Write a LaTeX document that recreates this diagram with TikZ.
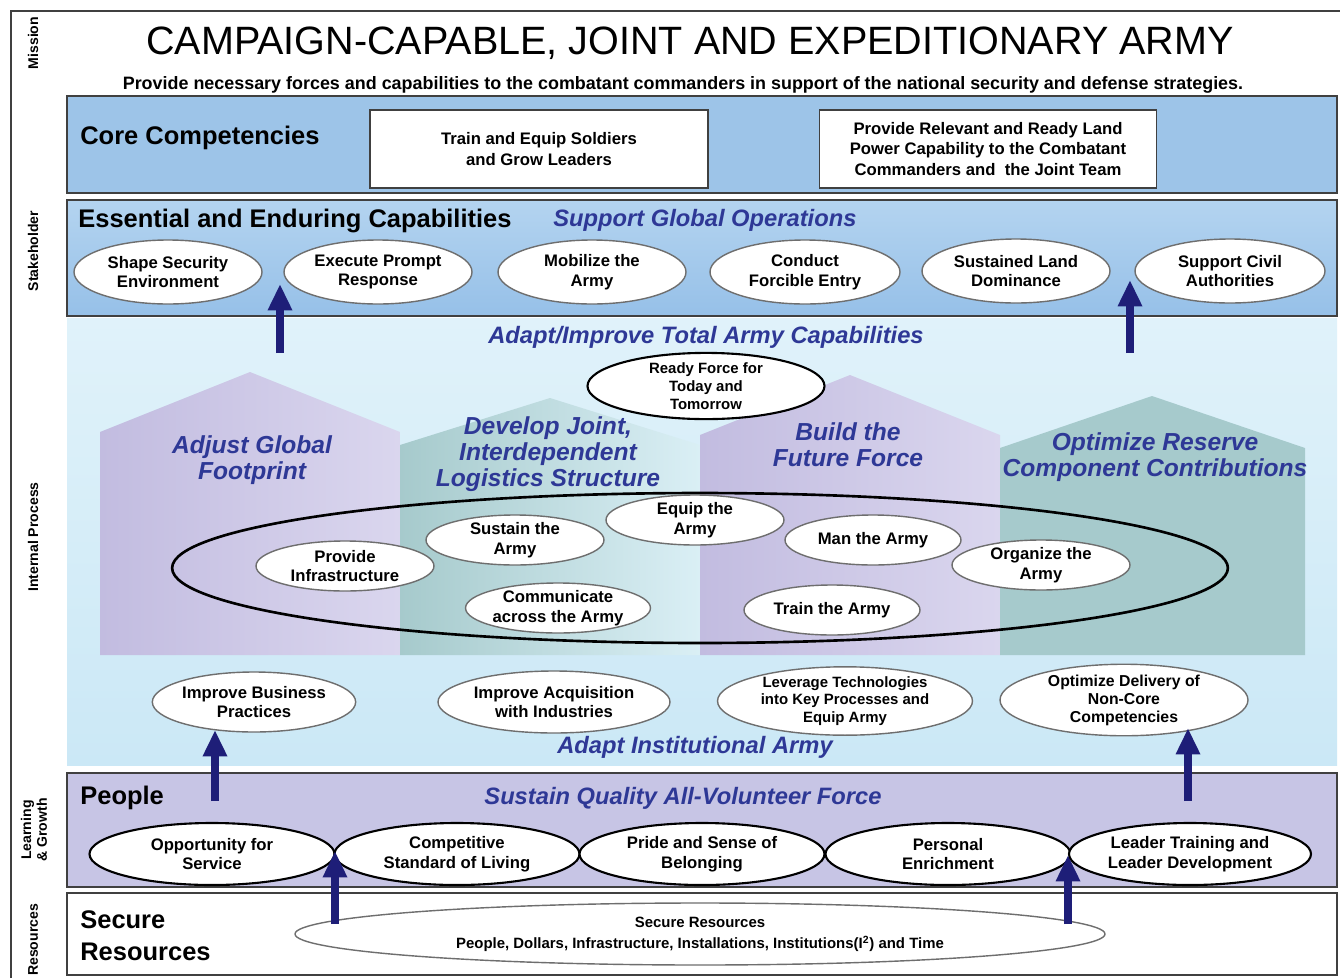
\documentclass[tikz,border=0pt]{standalone}
\usepackage{fontspec}
\setmainfont{Liberation Sans}
\usepackage{xcolor}
\usetikzlibrary{arrows.meta,shapes.geometric,positioning}

\definecolor{framegray}{RGB}{64,64,64}
\definecolor{ovalgray}{RGB}{110,110,110}
\definecolor{coreblue}{RGB}{157,196,232}
\definecolor{stakeblue}{RGB}{150,192,232}
\definecolor{stakelight}{RGB}{180,212,240}
\definecolor{procblue}{RGB}{203,232,246}
\definecolor{proclight}{RGB}{224,242,250}
\definecolor{peoplepurple}{RGB}{199,197,229}
\definecolor{housepurple}{RGB}{194,188,224}
\definecolor{houselilac}{RGB}{218,214,238}
\definecolor{houseteal}{RGB}{166,202,204}
\definecolor{housepale}{RGB}{218,239,245}
\definecolor{textblue}{RGB}{46,56,150}
\definecolor{arrownavy}{RGB}{30,30,120}

\begin{document}
\begin{tikzpicture}[
  x=0.02cm, y=-0.02cm,
  band/.style={draw=framegray, line width=1.3pt},
  whitebox/.style 2 args={rectangle, draw=framegray, line width=1pt, fill=white, inner sep=0pt,
    minimum width=#1*0.02cm, minimum height=#2*0.02cm, align=center,
    font=\bfseries\fontsize{9.5}{11.6}\selectfont},
  oval/.style 2 args={ellipse, draw=ovalgray, line width=0.8pt, fill=white, inner sep=0pt,
    minimum width=#1*0.02cm, minimum height=#2*0.02cm, align=center,
    font=\bfseries\fontsize{9.5}{11.2}\selectfont},
  darkoval/.style={draw=black, line width=1.2pt},
  heading/.style={anchor=west, inner sep=0pt, align=left, font=\bfseries\fontsize{14.5}{18}\selectfont},
  theme/.style={inner sep=0pt, text=textblue, font=\bfseries\itshape\fontsize{13.5}{16}\selectfont},
  pillar/.style={inner sep=0pt, text=textblue, align=center, font=\bfseries\itshape\fontsize{14}{15}\selectfont},
  sidelabel/.style={rotate=90, inner sep=0pt, align=center, font=\bfseries\fontsize{8}{9}\selectfont},
  uparrow/.style={draw=arrownavy, line width=4.5pt, -{Triangle[length=15pt,width=13pt]}}
]
  \useasboundingbox (0,0) rectangle (1340,978);
  \fill[white] (0,0) rectangle (1340,978);
  \draw[framegray, line width=1.2pt] (11,978) -- (11,11) -- (1340,11);

  % side labels
  \node[sidelabel] (lmission) at (33,43) {Mission};
  \node[sidelabel] (lstake) at (33,251) {Stakeholder};
  \node[sidelabel] (lprocess) at (33,537) {Internal Process};
  \node[sidelabel] (llearning) at (34,830) {Learning\\\& Growth};
  \node[sidelabel] (lresources) at (33,940) {Resources};

  % mission
  \node[inner sep=0pt, font=\fontsize{22.5}{26}\selectfont] (title) at (690,43)
    {CAMPAIGN-CAPABLE, JOINT AND EXPEDITIONARY ARMY};
  \node[inner sep=0pt, font=\bfseries\fontsize{10.2}{12}\selectfont] (mission) at (683,85)
    {Provide necessary forces and capabilities to the combatant commanders in support of the national security and defense strategies.};

  % core competencies
  \draw[band, fill=coreblue] (67,96) rectangle (1337,193);
  \node[heading] (core) at (80,138) {Core Competencies};
  \node[whitebox={338}{78}] (trainequip) at (539,149) {Train and Equip Soldiers\\and Grow Leaders};
  \node[whitebox={337}{78}] (landpower) at (988,149)
    {Provide Relevant and Ready Land\\Power Capability to the Combatant\\Commanders and \ the Joint Team};

  % stakeholder
  \draw[band, top color=stakelight, bottom color=stakeblue] (67,200) rectangle (1337,316);
  \node[heading] (essential) at (78,221) {Essential and Enduring Capabilities};
  \node[theme, anchor=west] (globalops) at (553,220) {Support Global Operations};
  \node[oval={188}{64}] (shape) at (168,272) {Shape Security\\Environment};
  \node[oval={188}{64}] (prompt) at (378,272) {Execute Prompt\\Response};
  \node[oval={188}{64}] (mobilize) at (592,272) {Mobilize the\\Army};
  \node[oval={190}{64}] (forcible) at (805,272) {Conduct\\Forcible Entry};
  \node[oval={188}{64}] (dominance) at (1016,271) {Sustained Land\\Dominance};
  \node[oval={190}{64}] (civil) at (1230,271) {Support Civil\\Authorities};

  % internal process
  \fill[top color=proclight, bottom color=procblue] (67,318) rectangle (1337,765);
  \node[theme] (totalarmy) at (706,337) {Adapt/Improve Total Army Capabilities};
  \shade[left color=housepurple, right color=houselilac]
    (100,655) -- (100,432) -- (250,372) -- (400,432) -- (400,655) -- cycle;
  \shade[left color=houseteal, right color=housepale]
    (400,655) -- (400,445) -- (550,398) -- (700,445) -- (700,655) -- cycle;
  \shade[left color=housepurple, right color=houselilac]
    (700,655) -- (700,435) -- (850,375) -- (1000,435) -- (1000,655) -- cycle;
  \shade[left color=houseteal, middle color=housepale, right color=houseteal]
    (1000,655) -- (1000,448) -- (1152,396) -- (1305,448) -- (1305,655) -- cycle;
  \node[pillar] (footprint) at (252,460) {Adjust Global\\Footprint};
  \node[pillar] (logistics) at (548,454) {Develop Joint,\\Interdependent\\Logistics Structure};
  \node[pillar] (future) at (848,445) {Build the\\Future Force};
  \node[pillar] (reserve) at (1155,457) {Optimize Reserve\\Component Contributions};
  \node[oval={237}{60}, darkoval, font=\bfseries\fontsize{8.5}{10.2}\selectfont] (ready) at (706,386)
    {Ready Force for\\Today and\\Tomorrow};

  \node[ellipse, draw=black, line width=1.5pt, minimum width=21.12cm, minimum height=3cm] (ring) at (700,568) {};
  \node[oval={178}{50}] (infra) at (345,566) {Provide\\Infrastructure};
  \node[oval={178}{50}] (sustain) at (515,540) {Sustain the\\Army};
  \node[oval={178}{50}] (equip) at (695,520) {Equip the\\Army};
  \node[oval={176}{50}] (man) at (873,540) {Man the Army};
  \node[oval={178}{50}] (organize) at (1041,565) {Organize the\\Army};
  \node[oval={170}{50}] (communicate) at (558,608) {Communicate\\across the Army};
  \node[oval={176}{50}] (train) at (832,610) {Train the Army};

  \node[oval={195}{60}] (business) at (254,702) {Improve Business\\Practices};
  \node[oval={232}{62}] (acquisition) at (554,702) {Improve Acquisition\\with Industries};
  \node[oval={255}{64}, font=\bfseries\fontsize{8.5}{9.8}\selectfont] (leverage) at (845,701)
    {Leverage Technologies\\into Key Processes and\\Equip Army};
  \node[oval={248}{70}, font=\bfseries\fontsize{9}{10.2}\selectfont] (noncore) at (1124,700)
    {Optimize Delivery of\\Non-Core\\Competencies};
  \node[theme] (institutional) at (695,747) {Adapt Institutional Army};

  % learning and growth
  \draw[band, fill=peoplepurple] (67,773) rectangle (1337,887);
  \node[heading] (people) at (80,798) {People};
  \node[theme] (volunteer) at (683,798) {Sustain Quality All-Volunteer Force};
  \node[oval={245}{62}, darkoval] (opportunity) at (212,854) {Opportunity for\\Service};
  \node[oval={245}{62}, darkoval] (living) at (457,854) {Competitive\\Standard of Living};
  \node[oval={245}{62}, darkoval] (pride) at (702,854) {Pride and Sense of\\Belonging};
  \node[oval={245}{62}, darkoval] (enrichment) at (948,854) {Personal\\Enrichment};
  \node[oval={242}{62}, darkoval] (leader) at (1190,854) {Leader Training and\\Leader Development};

  % resources
  \draw[band, fill=white] (67,893) rectangle (1337,975);
  \node[heading] (secure) at (80,936) {Secure\\Resources};
  \node[oval={810}{62}, font=\bfseries\fontsize{8.5}{12}\selectfont] (means) at (700,934)
    {Secure Resources\\People, Dollars, Infrastructure, Installations, Institutions(I\textsuperscript{2}) and Time};

  % arrows
  \coordinate (r1) at (335,924);
  \coordinate (r1tip) at (335,851);
  \coordinate (r2) at (1068,924);
  \coordinate (r2tip) at (1068,855);
  \coordinate (p1) at (215,801);
  \coordinate (p1tip) at (215,730);
  \coordinate (p2) at (1188,801);
  \coordinate (p2tip) at (1188,728);
  \coordinate (i1) at (280,353);
  \coordinate (i1tip) at (280,284);
  \coordinate (i2) at (1130,353);
  \coordinate (i2tip) at (1130,280);
  \draw[uparrow] (r1) -- (r1tip);
  \draw[uparrow] (r2) -- (r2tip);
  \draw[uparrow] (p1) -- (p1tip);
  \draw[uparrow] (p2) -- (p2tip);
  \draw[uparrow] (i1) -- (i1tip);
  \draw[uparrow] (i2) -- (i2tip);
\end{tikzpicture}
\end{document}
